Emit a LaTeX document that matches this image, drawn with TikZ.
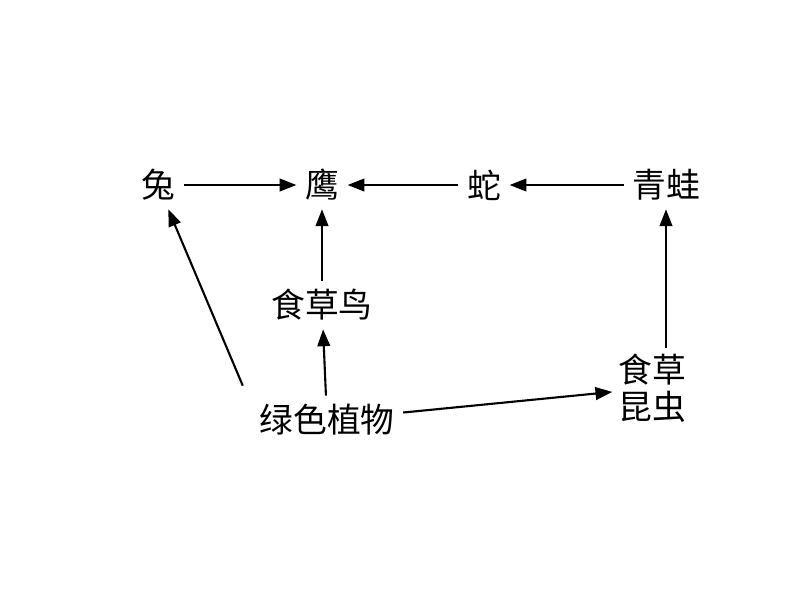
\documentclass[tikz,border=0pt]{standalone}
\usepackage{fontspec}
\newfontfamily\cjk{Noto Sans CJK SC}
\usetikzlibrary{arrows.meta}
\begin{document}
\begin{tikzpicture}[x=0.025cm,y=-0.025cm,
  lab/.style={font=\cjk\fontsize{24}{30}\selectfont,inner sep=6pt,align=center},
  arr/.style={-{Triangle[length=12pt,width=9pt]},line width=1.5pt}]
\useasboundingbox (0,0) rectangle (800,600);
\node[lab] (tu) at (158,185) {兔};
\node[lab] (ying) at (322,185) {鹰};
\node[lab] (she) at (484,185) {蛇};
\node[lab] (qw) at (666,185) {青蛙};
\node[lab] (niao) at (322,305) {食草鸟};
\node[lab] (zw) at (327,420) {绿色植物};
\node[lab,inner sep=4pt] (kc) at (652,388) {食草\\[-4pt]昆虫};
\draw[arr] (tu) -- (ying);
\draw[arr] (she) -- (ying);
\draw[arr] (qw) -- (she);
\draw[arr] (niao) -- (ying);
\draw[arr] (zw) -- (niao);
\draw[arr] (zw.north west) ++(-8,-10) coordinate (a) (a) -- (tu);
\draw[arr] (zw) -- (kc);
\draw[arr] (kc.north -| qw) -- (qw);
\end{tikzpicture}
\end{document}
